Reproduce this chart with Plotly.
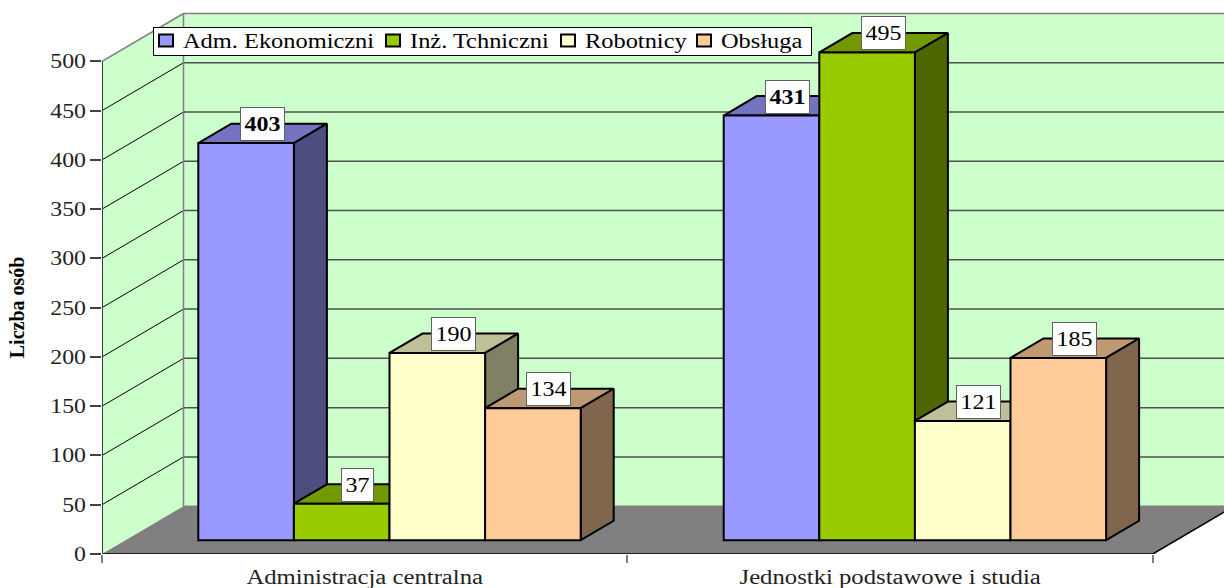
import plotly.graph_objects as go

categories = ["Administracja centralna", "Jednostki podstawowe i studia"]
series_names = ["Adm. Ekonomiczni", "Inż. Tchniczni", "Robotnicy", "Obsługa"]
adm = [403, 431]
inz = [37, 495]
rob = [190, 121]
obs = [134, 185]
y_ticks = [0, 50, 100, 150, 200, 250, 300, 350, 400, 450, 500]
front_colors = ["#9999FF", "#99CC00", "#FFFFCC", "#FFCC99"]
top_colors = ["#7373BF", "#739900", "#BFBF99", "#BF9973"]
side_colors = ["#4D4D80", "#4D6600", "#808066", "#80664D"]

W, H = 1224, 588
L, B = 102, 34.4
CAT_PX = 525.4
PX_PER_VAL = 0.9846
FONT = "Liberation Serif"
FS = 20

def ux(px):
    return px / CAT_PX

def uv(px):
    return px / PX_PER_VAL

wall_dx, wall_dv = ux(81.5), uv(47.8)
bar_w = ux(95.6)
gap_dx, gap_dv = ux(24.8), uv(13.8)
depth_dx, depth_dv = ux(33), uv(19.4)
wall_top = y_ticks[-1] + wall_dv
x_end = len(categories) + wall_dx

fig = go.Figure()

def poly(xs, ys, fill, line=None, lw=0, z=0):
    fig.add_trace(go.Scatter(
        x=xs, y=ys, mode="lines", fill="toself", fillcolor=fill,
        line=dict(color=line or fill, width=lw), showlegend=False,
        hoverinfo="skip", zorder=z))

def lines(segs, color, lw, z=1, clip=True):
    xs, ys = [], []
    for (x0, y0, x1, y1) in segs:
        xs += [x0, x1, None]
        ys += [y0, y1, None]
    fig.add_trace(go.Scatter(
        x=xs, y=ys, mode="lines", line=dict(color=color, width=lw),
        showlegend=False, hoverinfo="skip", zorder=z, cliponaxis=clip))

# walls and floor
poly([wall_dx, x_end, x_end, wall_dx, wall_dx],
     [wall_dv, wall_dv, wall_top, wall_top, wall_dv], "#CCFFCC")
poly([0, wall_dx, wall_dx, 0, 0],
     [0, wall_dv, wall_top, y_ticks[-1], 0], "#CCFFCC")
poly([0, len(categories), x_end, wall_dx, 0],
     [0, 0, wall_dv, wall_dv, 0], "#808080")

# gridlines
lines([(wall_dx, v + wall_dv, x_end, v + wall_dv) for v in y_ticks[1:-1]], "#505050", 1.5)
lines([(0, v, wall_dx, v + wall_dv) for v in y_ticks[1:-1]], "#000000", 1)
# wall edges
lines([(wall_dx, wall_dv, wall_dx, wall_top), (wall_dx, wall_top, x_end, wall_top),
       (0, y_ticks[-1], wall_dx, wall_top), (wall_dx, wall_dv, x_end, wall_dv)], "#808080", 1.5)
lines([(0, 0, len(categories), 0), (len(categories), 0, x_end, wall_dv)], "#000000", 1.5, clip=False)
lines([(0, 0, 0, y_ticks[-1])], "#404040", 2, clip=False)

annotations = []
all_series = [adm, inz, rob, obs]
for s, values in enumerate(all_series):
    xs = [i + 0.5 + gap_dx + (s - 1.5) * bar_w for i in range(len(categories))]
    z = 10 * (s + 1)
    for c, v in zip(xs, values):
        l, r = c - bar_w / 2, c + bar_w / 2
        t = gap_dv + v
        poly([l, r, r + depth_dx, l + depth_dx, l],
             [t, t, t + depth_dv, t + depth_dv, t], top_colors[s], "#000000", 2, z)
        poly([r, r + depth_dx, r + depth_dx, r, r],
             [gap_dv, gap_dv + depth_dv, t + depth_dv, t, gap_dv], side_colors[s], "#000000", 2, z)
        annotations.append(dict(
            x=c, y=t, xref="x", yref="y", xshift=16, yshift=19,
            text=str(v), showarrow=False,
            font=dict(family=FONT, size=FS, color="#000000",
                      weight="bold" if s == 0 else "normal"),
            bgcolor="#FFFFFF", bordercolor="#606060", borderwidth=1, borderpad=0,
            width=43 if v >= 100 else 31, height=32))
    fig.add_trace(go.Bar(
        x=xs, y=values, base=[gap_dv] * len(values), width=bar_w,
        name=series_names[s],
        marker=dict(color=front_colors[s], line=dict(color="#000000", width=2)),
        hoverinfo="skip", zorder=z + 1, legendwidth=[182, 130, 91, 90][s]))

annotations.append(dict(
    x=(17 - L) / (W - L), y=(H - B - 307) / (H - B), xref="paper", yref="paper",
    xanchor="center", yanchor="middle",
    text="Liczba osób", textangle=-90, showarrow=False, name="ytitle",
    font=dict(family=FONT, size=20, color="#000000", weight="bold")))

fig.update_layout(
    width=W, height=H, autosize=False,
    margin=dict(l=L, r=0, t=0, b=B, pad=0),
    paper_bgcolor="#FFFFFF", plot_bgcolor="#FFFFFF",
    barmode="overlay",
    font=dict(family=FONT, size=FS, color="#222222"),
    xaxis=dict(range=[0, (W - L) / CAT_PX], tickvals=[0.5, 1.5], ticktext=categories,
               ticks="", showgrid=False, zeroline=False, showline=False,
               ticklabelstandoff=9,
               tickfont=dict(family=FONT, size=FS, color="#222222"),
               minor=dict(tickvals=[0, 1, 2], ticks="outside", ticklen=8,
                          tickcolor="#808080", tickwidth=1.5, showgrid=False)),
    yaxis=dict(range=[0, (H - B) / PX_PER_VAL], tickvals=y_ticks, ticks="outside",
               ticklen=11, tickcolor="#404040", tickwidth=1.5, showgrid=False,
               zeroline=False, showline=False,
               tickfont=dict(family=FONT, size=FS, color="#222222")),
    legend=dict(orientation="h", x=(142 - L) / (W - L), y=(H - B - 20) / (H - B),
                xanchor="left", yanchor="top", bgcolor="#FFFFFF",
                bordercolor="#000000", borderwidth=1,
                font=dict(family=FONT, size=FS, color="#000000"),
                entrywidthmode="pixels"),
    annotations=annotations,
)

# The reference's type is horizontally stretched, and its legend box is tighter
# than plotly's; adjust the drawn SVG without changing any text.
POST = """
document.body.style.margin = '0';
var gd = document.getElementById('{plot_id}');
function stretch(sel, k) {
  gd.querySelectorAll(sel).forEach(function (t) {
    if (!t.textContent) return;
    t.setAttribute('textLength', t.getComputedTextLength() * k);
    t.setAttribute('lengthAdjust', 'spacingAndGlyphs');
  });
}
stretch('.xtick text', 1.235);
stretch('.ytick text', 1.19);
stretch('.legendtext', 1.22);
gd.querySelectorAll('.annotation').forEach(function (a) {
  var t = a.querySelector('text');
  if (t && /^[0-9]+$/.test(t.textContent)) {
    t.setAttribute('textLength', t.getComputedTextLength() * 1.2);
    t.setAttribute('lengthAdjust', 'spacingAndGlyphs');
  }
});
var leg = gd.querySelector('.legend');
var m = /translate\\(([-0-9.]+),\\s*([-0-9.]+)\\)/.exec(leg.getAttribute('transform'));
var bg = leg.querySelector('.bg');
var lx = parseFloat(m[1]), ly = parseFloat(m[2]);
bg.setAttribute('x', 153.5 - lx);
bg.setAttribute('width', 658);
bg.setAttribute('y', 27.5 - ly);
bg.setAttribute('height', 28);
gd.querySelectorAll('.legendpoints path').forEach(function (p) {
  p.setAttribute('d', 'M6,6H-8V-6H6Z');
  p.setAttribute('transform', 'translate(24,0)');
});
"""

fig.write_html("out.html", config={"displayModeBar": False}, post_script=POST)
